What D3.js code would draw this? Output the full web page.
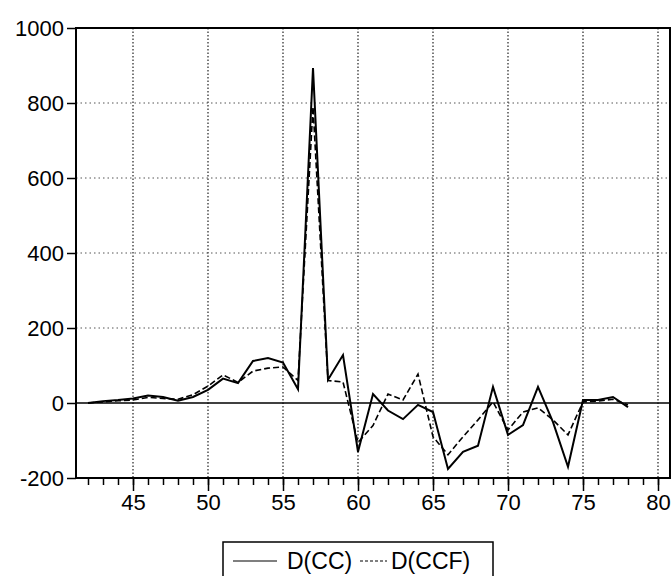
<!DOCTYPE html>
<html>
<head>
<meta charset="utf-8">
<script src="https://cdn.jsdelivr.net/npm/d3@7"></script>
<style>
  body { margin: 0; background: #fff; }
  svg { font-family: "Liberation Sans", Arial, sans-serif; }
</style>
</head>
<body>
<div class="chart"></div>
<script>
// observations (x axis)
let years = [42, 43, 44, 45, 46, 47, 48, 49, 50, 51, 52, 53, 54, 55, 56, 57, 58, 59, 60,
    61, 62, 63, 64, 65, 66, 67, 68, 69, 70, 71, 72, 73, 74, 75, 76, 77, 78]

// D(CC)
let cc = [0, 5, 8, 12, 20, 16, 6, 16, 35, 65, 53, 112, 120, 108, 37, 893, 62, 128, -130,
    24, -20, -43, -5, -24, -176, -130, -114, 43, -85, -59, 43, -51, -170, 8, 8, 16, -11]

// D(CCF)
let ccf = [0, 3, 6, 8, 15, 12, 10, 22, 45, 75, 55, 85, 93, 96, 60, 790, 60, 56, -105,
    -60, 24, 8, 77, -90, -138, -90, -45, 3, -72, -24, -13, -45, -85, 3, 5, 10, -5]

let xTicks = [45, 50, 55, 60, 65, 70, 75, 80]
let yTicks = [-200, 0, 200, 400, 600, 800, 1000]
let seriesNames = ["D(CC)", "D(CCF)"]

let outerWidth = 672
let outerHeight = 576
let margin = {top: 28, left: 76, right: 2, bottom: 98}
let width = outerWidth - margin.left - margin.right
let height = outerHeight - margin.top - margin.bottom

let svg = d3.select(".chart")
    .append("svg")
    .attr("width", outerWidth)
    .attr("height", outerHeight)

let g = svg.append("g")
    .attr("transform", `translate(${margin.left}, ${margin.top})`)

let xScale = d3.scaleLinear()
    .domain([41.2, 80.8])
    .range([0, width])

let yScale = d3.scaleLinear()
    .domain([-200, 1000])
    .range([height, 0])

// grid
g.append("g")
    .selectAll("line")
    .data(xTicks.filter(d => d < 80.8))
    .enter()
    .append("line")
    .attr("x1", d => xScale(d))
    .attr("x2", d => xScale(d))
    .attr("y1", 0)
    .attr("y2", height)
    .attr("stroke", "#222")
    .attr("stroke-width", 1.2)
    .attr("stroke-dasharray", "1.5,2")

g.append("g")
    .selectAll("line")
    .data(yTicks.filter(d => d > -200 && d < 1000 && d != 0))
    .enter()
    .append("line")
    .attr("x1", 0)
    .attr("x2", width)
    .attr("y1", d => yScale(d))
    .attr("y2", d => yScale(d))
    .attr("stroke", "#555")
    .attr("stroke-width", 1)
    .attr("stroke-dasharray", "1.5,3")

// zero line
g.append("line")
    .attr("x1", 0)
    .attr("x2", width)
    .attr("y1", yScale(0))
    .attr("y2", yScale(0))
    .attr("stroke", "#000")
    .attr("stroke-width", 1.5)

// axes
let xAxisMinor = d3.axisBottom(xScale)
    .tickValues(d3.range(42, 81))
    .tickSize(7)
    .tickFormat("")

let xAxis = d3.axisBottom(xScale)
    .tickValues(xTicks)
    .tickSize(13)
    .tickPadding(3)
    .tickFormat(d3.format("d"))

let yAxis = d3.axisLeft(yScale)
    .tickValues(yTicks)
    .tickSize(9)
    .tickPadding(3)
    .tickFormat(d => String(d))

g.append("g")
    .attr("transform", `translate(0, ${height})`)
    .call(xAxisMinor)
    .call(a => a.select(".domain").remove())
    .selectAll("line").attr("stroke-width", 1.5)

g.append("g")
    .attr("class", "axis x-axis")
    .attr("transform", `translate(0, ${height})`)
    .call(xAxis)
    .call(a => a.select(".domain").remove())
    .call(a => a.selectAll("line").attr("stroke-width", 1.5))
    .selectAll("text")
    .attr("font-size", 22)
    .attr("fill", "#000")

g.append("g")
    .attr("class", "axis y-axis")
    .call(yAxis)
    .call(a => a.select(".domain").remove())
    .call(a => a.selectAll("line").attr("stroke-width", 1.5))
    .selectAll("text")
    .attr("font-size", 22)
    .attr("fill", "#000")

// frame
g.append("rect")
    .attr("x", 0)
    .attr("y", 0)
    .attr("width", width)
    .attr("height", height)
    .attr("fill", "none")
    .attr("stroke", "#000")
    .attr("stroke-width", 2)

// lines
let line = values => d3.line()
    .x((d, i) => xScale(years[i]))
    .y(d => yScale(d))(values)

g.append("path")
    .attr("d", line(ccf))
    .attr("fill", "none")
    .attr("stroke", "#000")
    .attr("stroke-width", 1.6)
    .attr("stroke-dasharray", "6,3")

g.append("path")
    .attr("d", line(cc))
    .attr("fill", "none")
    .attr("stroke", "#000")
    .attr("stroke-width", 2)

// legend
let legend = svg.append("g").attr("class", "legend")

legend.append("rect")
    .attr("x", 223)
    .attr("y", 542)
    .attr("width", 270)
    .attr("height", 50)
    .attr("fill", "#fff")
    .attr("stroke", "#000")
    .attr("stroke-width", 1.5)

legend.append("line")
    .attr("x1", 233).attr("x2", 277)
    .attr("y1", 561).attr("y2", 561)
    .attr("stroke", "#000").attr("stroke-width", 1.2)

legend.append("text")
    .attr("x", 287).attr("y", 569)
    .attr("font-size", 23)
    .text(seriesNames[0])

legend.append("line")
    .attr("x1", 360).attr("x2", 387)
    .attr("y1", 561).attr("y2", 561)
    .attr("stroke", "#000").attr("stroke-width", 1.2)
    .attr("stroke-dasharray", "3,2")

legend.append("text")
    .attr("x", 391).attr("y", 569)
    .attr("font-size", 23)
    .text(seriesNames[1])
</script>
</body>
</html>
